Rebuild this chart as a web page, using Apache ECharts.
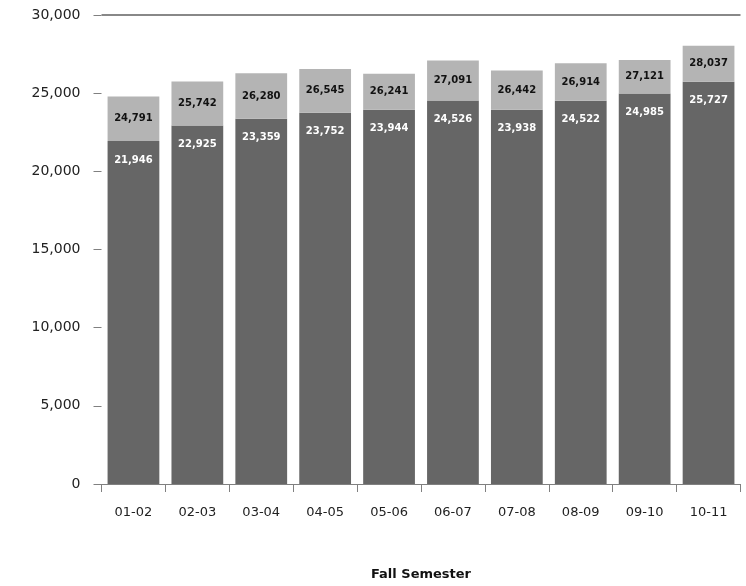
<!DOCTYPE html>
<html>
<head>
<meta charset="utf-8">
<script src="https://cdn.jsdelivr.net/npm/echarts@6/dist/echarts.min.js"></script>
<style>html,body{margin:0;padding:0;background:#fff}#c{width:746px;height:586px}</style>
</head>
<body>
<div id="c"></div>
<script>
var categories = ['01-02','02-03','03-04','04-05','05-06','06-07','07-08','08-09','09-10','10-11'];
var baseValues = [21946, 22925, 23359, 23752, 23944, 24526, 23938, 24522, 24985, 25727];
var totalValues = [24791, 25742, 26280, 26545, 26241, 27091, 26442, 26914, 27121, 28037];
var yTicks = [0, 5000, 10000, 15000, 20000, 25000, 30000];

var topValues = totalValues.map(function(t, i){ return t - baseValues[i]; });
function fmt(v){ return v.toLocaleString('en-US'); }

var chart = echarts.init(document.getElementById('c'));
chart.setOption({
  animation: false,
  grid: { left: 101.5, right: 5.5, top: 15, bottom: 95 },
  xAxis: {
    type: 'category',
    data: categories,
    name: 'Fall Semester',
    nameLocation: 'middle',
    nameGap: 84,
    nameTextStyle: { fontFamily: 'DejaVu Sans', fontSize: 13, fontWeight: 'bold', color: '#111' },
    axisLine: { lineStyle: { color: '#808080', width: 1 } },
    axisTick: { show: true, length: 8, lineStyle: { color: '#808080' } },
    axisLabel: { fontFamily: 'DejaVu Sans', fontSize: 13, color: '#222', margin: 22, interval: 0 }
  },
  yAxis: {
    type: 'value',
    min: yTicks[0],
    max: yTicks[yTicks.length - 1],
    interval: yTicks[1] - yTicks[0],
    splitLine: { show: false },
    axisLine: { show: false },
    axisTick: { show: true, length: 8, lineStyle: { color: '#808080' } },
    axisLabel: {
      fontFamily: 'DejaVu Sans', fontSize: 14, color: '#222', margin: 21,
      formatter: function(v){ return fmt(v); }
    }
  },
  series: [
    {
      type: 'bar',
      stack: 's',
      data: baseValues,
      barCategoryGap: '19%',
      itemStyle: { color: '#666666' },
      label: {
        show: true, position: 'insideTop', distance: 14,
        color: '#ffffff', fontFamily: 'DejaVu Sans', fontSize: 10, fontWeight: 'bold',
        formatter: function(p){ return fmt(baseValues[p.dataIndex]); }
      },
      markLine: {
        silent: true, symbol: 'none',
        lineStyle: { color: '#888888', width: 2, type: 'solid' },
        label: { show: false },
        data: [{ yAxis: yTicks[yTicks.length - 1] }]
      }
    },
    {
      type: 'bar',
      stack: 's',
      data: topValues,
      itemStyle: { color: '#b4b4b4' },
      label: {
        show: true, position: 'inside',
        color: '#111111', fontFamily: 'DejaVu Sans', fontSize: 10, fontWeight: 'bold',
        formatter: function(p){ return fmt(totalValues[p.dataIndex]); }
      }
    }
  ]
});
</script>
</body>
</html>
